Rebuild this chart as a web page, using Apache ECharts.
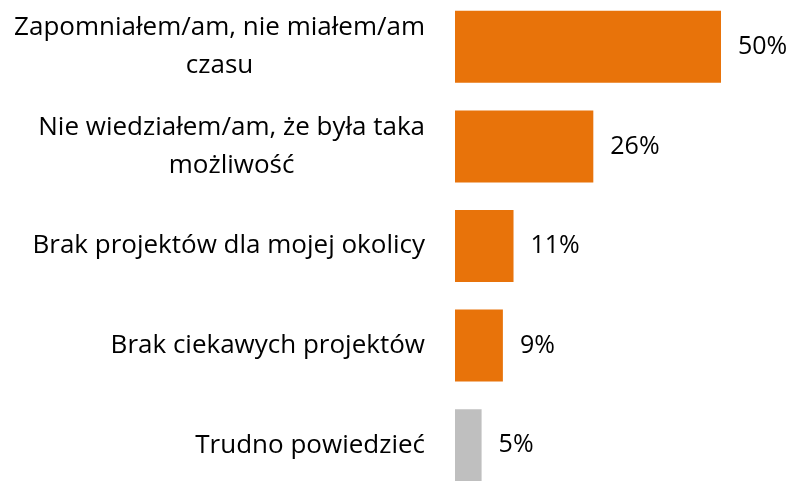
<!DOCTYPE html>
<html>
<head>
<meta charset="utf-8">
<script src="https://cdn.jsdelivr.net/npm/echarts@6/dist/echarts.min.js"></script>
<style>
  html, body { margin: 0; padding: 0; background: #fff; }
  #chart { width: 797px; height: 481px; }
</style>
</head>
<body>
<div id="chart"></div>
<script>
// categories, top to bottom
const categories = [
  'Zapomniałem/am, nie miałem/am\nczasu',
  'Nie wiedziałem/am, że była taka\nmożliwość',
  'Brak projektów dla mojej okolicy',
  'Brak ciekawych projektów',
  'Trudno powiedzieć'
]
const values = [50, 26, 11, 9, 5]

const orange = '#E8730A'
const grey = '#BFBFBF'
const font = '"Open Sans", "Noto Sans", sans-serif'

const chart = echarts.init(document.getElementById('chart'))
chart.setOption({
  animation: false,
  grid: {
    left: 455,
    top: -3,
    width: 266,
    height: 498,
    outerBoundsMode: 'none'
  },
  xAxis: {
    type: 'value',
    min: 0,
    max: 50,
    show: false
  },
  yAxis: {
    type: 'category',
    data: categories,
    inverse: true,
    axisLine: { show: false },
    axisTick: { show: false },
    splitLine: { show: false },
    axisLabel: {
      margin: 30,
      align: 'right',
      formatter: val => val.split('\n').map(s => '{c|' + s + '}').join('\n'),
      rich: {
        c: {
          align: 'center',
          fontFamily: font,
          fontSize: 26,
          lineHeight: 38,
          color: '#000'
        }
      }
    }
  },
  series: [{
    type: 'bar',
    data: values,
    barWidth: 72,
    itemStyle: {
      color: p => (p.dataIndex === categories.length - 1 ? grey : orange)
    },
    label: {
      show: true,
      position: 'right',
      distance: 17,
      formatter: '{c}%',
      fontFamily: font,
      fontSize: 25,
      color: '#000'
    }
  }]
})
</script>
</body>
</html>
